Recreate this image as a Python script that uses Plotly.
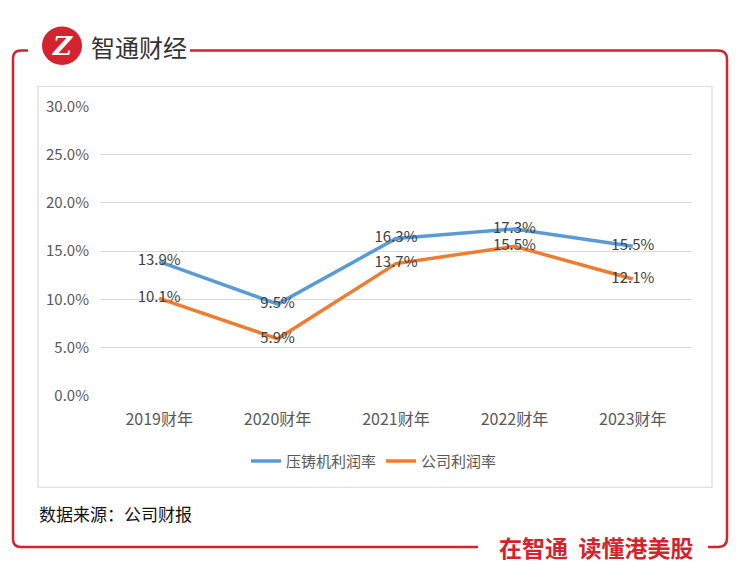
import plotly.graph_objects as go

# ---- data ----
years = ["2019财年", "2020财年", "2021财年", "2022财年", "2023财年"]
die_casting_margin = [13.9, 9.5, 16.3, 17.3, 15.5]
company_margin = [10.1, 5.9, 13.7, 15.5, 12.1]
y_ticks = [0, 5, 10, 15, 20, 25, 30]
y_tick_labels = ["0.0%", "5.0%", "10.0%", "15.0%", "20.0%", "25.0%", "30.0%"]
series_names = ["压铸机利润率", "公司利润率"]

W, H = 744, 583
def px(x):
    return x / W
def py(y):
    return 1 - y / H

def path(points):
    s = ""
    for cmd, pts in points:
        s += cmd + " " + " ".join(f"{px(a):.5f},{py(b):.5f}" for a, b in pts) + " "
    return s.strip()

FONT = "Liberation Sans Narrow, Noto Sans CJK SC, sans-serif"
CJK = "Noto Sans CJK SC, sans-serif"
RED = "#D2232F"

fig = go.Figure()
for name, vals, col in [(series_names[0], die_casting_margin, "#5B9BD5"),
                        (series_names[1], company_margin, "#ED7D31")]:
    fig.add_trace(go.Scatter(
        x=years, y=vals, name=name, mode="lines+text",
        line=dict(color=col, width=3.5),
        text=[f"{v:.1f}%" for v in vals], textposition="middle center",
        textfont=dict(family=FONT, size=15, color="#404040"),
        cliponaxis=False,
    ))

shapes = [
    # inner gray frame
    dict(type="rect", xref="paper", yref="paper", x0=px(38), x1=px(712), y0=py(493), y1=py(77),
         line=dict(color="#D9D9D9", width=1.2), layer="below"),
    # red frame left part
    dict(type="path", xref="paper", yref="paper",
         path=path([("M", [(28, 40)]), ("L", [(21, 40)]), ("Q", [(13, 40), (13, 48)]),
                    ("L", [(13, 547)]), ("Q", [(13, 555), (21, 555)]), ("L", [(478, 555)])]),
         line=dict(color=RED, width=2.5)),
    # red frame right part
    dict(type="path", xref="paper", yref="paper",
         path=path([("M", [(190, 40)]), ("L", [(718, 40)]), ("Q", [(727, 40), (727, 49)]),
                    ("L", [(727, 546)]), ("Q", [(727, 555), (718, 555)]), ("L", [(708, 555)])]),
         line=dict(color=RED, width=2.5)),
    # logo circle
    dict(type="circle", xref="paper", yref="paper", x0=px(42), x1=px(82), y0=py(55), y1=py(15),
         fillcolor=RED, line=dict(width=0)),
]

annotations = [
    dict(text="<b><i>Z</i></b>", x=px(62), y=py(35), xref="paper", yref="paper", showarrow=False,
         xanchor="center", yanchor="middle", font=dict(family="DejaVu Serif", size=26, color="white")),
    dict(text="智通财经", x=px(89), y=py(36), xref="paper", yref="paper", showarrow=False,
         xanchor="left", yanchor="middle", font=dict(family=CJK, size=24, color="#333333")),
    dict(text="<b>在智通  读懂港美股</b>", x=px(596), y=py(555), xref="paper", yref="paper",
         showarrow=False, xanchor="center", yanchor="middle",
         font=dict(family=CJK, size=23, color=RED)),
    dict(text="数据来源：公司财报", x=px(37), y=py(520), xref="paper", yref="paper", showarrow=False,
         xanchor="left", yanchor="middle", font=dict(family=CJK, size=17, color="#111111")),
]

fig.update_layout(
    width=W, height=H,
    margin=dict(l=0, r=0, t=0, b=0),
    paper_bgcolor="white", plot_bgcolor="white",
    showlegend=True,
    legend=dict(orientation="h", x=px(374), y=py(466), xanchor="center", yanchor="middle",
                font=dict(family=CJK, size=15, color="#595959"), itemwidth=30,
                traceorder="normal"),
    shapes=shapes, annotations=annotations,
    xaxis=dict(domain=[px(100), px(692)], type="category", range=[-0.5, 4.5],
               showgrid=False, showline=False, zeroline=False, ticks="",
               tickfont=dict(family=FONT, size=16, color="#595959"), ticklabelstandoff=12),
    yaxis=dict(domain=[py(398), py(98)], range=[0, 30], tickvals=y_ticks, ticktext=y_tick_labels,
               showgrid=True, gridcolor="#D9D9D9", gridwidth=1.2, zeroline=False, showline=False,
               ticks="", tickfont=dict(family=FONT, size=15, color="#595959"), ticklabelstandoff=10),
)

fig.write_html("out.html")
